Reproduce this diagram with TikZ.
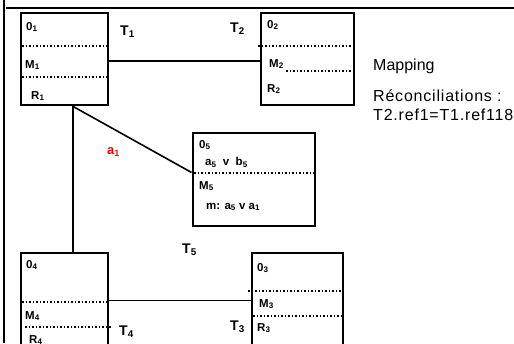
\documentclass[tikz,border=0pt]{standalone}
\usepackage{fontspec}
\setmainfont{Liberation Sans}
\usetikzlibrary{calc}
\begin{document}
\begin{tikzpicture}[x=1pt,y=-1pt,
  box/.style={draw,line width=2.8pt,rectangle,inner sep=0pt},
  link/.style={line width=1.6pt},
  sep/.style={line width=1.5pt,dotted},
  lbl/.style={anchor=west,inner sep=0pt,font=\fontsize{11.5}{13}\selectfont\bfseries},
  tlbl/.style={anchor=west,inner sep=0pt,font=\fontsize{14}{16}\selectfont\bfseries},
  note/.style={anchor=base west,inner sep=0pt,font=\fontsize{16}{18}\selectfont},
  widenote/.style={note,font=\fontsize{16}{18}\selectfont\addfontfeature{LetterSpace=5}}]
\clip (0,0) rectangle (514,343);
\useasboundingbox (0,0) rectangle (514,343);

% frame lines
\draw[line width=2pt] (3.5,0) -- (3.5,343);
\draw[line width=1.6pt] (6,8) -- (514,8);

% boxes
\node[box,minimum width=87pt,minimum height=92pt] (b1) at (64.5,59) {};
\node[box,minimum width=93pt,minimum height=92pt] (b2) at (307.5,59) {};
\node[box,minimum width=122pt,minimum height=93pt] (b5) at (254,179.5) {};
\node[box,minimum width=87pt,minimum height=117pt] (b4) at (64.5,311.5) {};
\node[box,minimum width=91pt,minimum height=117pt] (b3) at (297.5,311.5) {};

% separators
\draw[sep] (22,46) -- (107,46);
\draw[sep] (22,77) -- (107,77);
\draw[sep] (258,46) -- (352,46);
\draw[sep] (286,71) -- (352,71);
\draw[sep] (194,173) -- (314,173);
\draw[sep] (22,302) -- (107,302);
\draw[sep] (25,327) -- (111,327);
\draw[sep] (248,291) -- (342,291);
\draw[sep] (253,316) -- (342,316);

% connectors
\coordinate (p1) at ([xshift=8.5pt]b1.south);
\coordinate (p4) at ([xshift=8.5pt]b4.north);
\draw[link] ([yshift=-2pt]b1.east) -- ([yshift=-2pt]b2.west);
\draw[link] (p1) -- (p4);
\draw[link] (p1) -- ([yshift=7pt]b5.west);
\draw[link] ($(b4.north east)+(0,49)$) -- ($(b3.north west)+(0,49)$);

% box texts
\node[lbl] (o1) at (26,27) {0\textsubscript{1}};
\node[lbl] (m1) at (25,65) {M\textsubscript{1}};
\node[lbl] (r1) at (31,96) {R\textsubscript{1}};
\node[lbl] (o2) at (267,25) {0\textsubscript{2}};
\node[lbl] (m2) at (269,64) {M\textsubscript{2}};
\node[lbl] (r2) at (267,89) {R\textsubscript{2}};
\node[lbl] (o5) at (199,145) {0\textsubscript{5}};
\node[lbl] (f5) at (205,162) {a\textsubscript{5}\ \ v\ \ b\textsubscript{5}};
\node[lbl] (m5) at (199,186) {M\textsubscript{5}};
\node[lbl] (g5) at (206,207) {m: a\textsubscript{5} v a\textsubscript{1}};
\node[lbl] (o4) at (26,265) {0\textsubscript{4}};
\node[lbl] (m4) at (25,316) {M\textsubscript{4}};
\node[lbl] (r4) at (29,340) {R\textsubscript{4}};
\node[lbl] (o3) at (257,268) {0\textsubscript{3}};
\node[lbl] (m3) at (259,304) {M\textsubscript{3}};
\node[lbl] (r3) at (257,328) {R\textsubscript{3}};

% transformation labels
\node[tlbl] (t1) at (120,32) {T\textsubscript{1}};
\node[tlbl] (t2) at (230,29) {T\textsubscript{2}};
\node[tlbl] (t5) at (182,250) {T\textsubscript{5}};
\node[tlbl] (t4) at (119,332) {T\textsubscript{4}};
\node[tlbl] (t3) at (230,327) {T\textsubscript{3}};
\node[lbl,text=red,font=\fontsize{13}{15}\selectfont\bfseries] (a1) at (107,152) {a\textsubscript{1}};

% notes
\node[note] (map) at (373,70) {Mapping};
\node[widenote] (rec) at (373,101) {Réconciliations :};
\node[widenote] (eq) at (373,120) {T2.ref1=T1.ref118};
\end{tikzpicture}
\end{document}
